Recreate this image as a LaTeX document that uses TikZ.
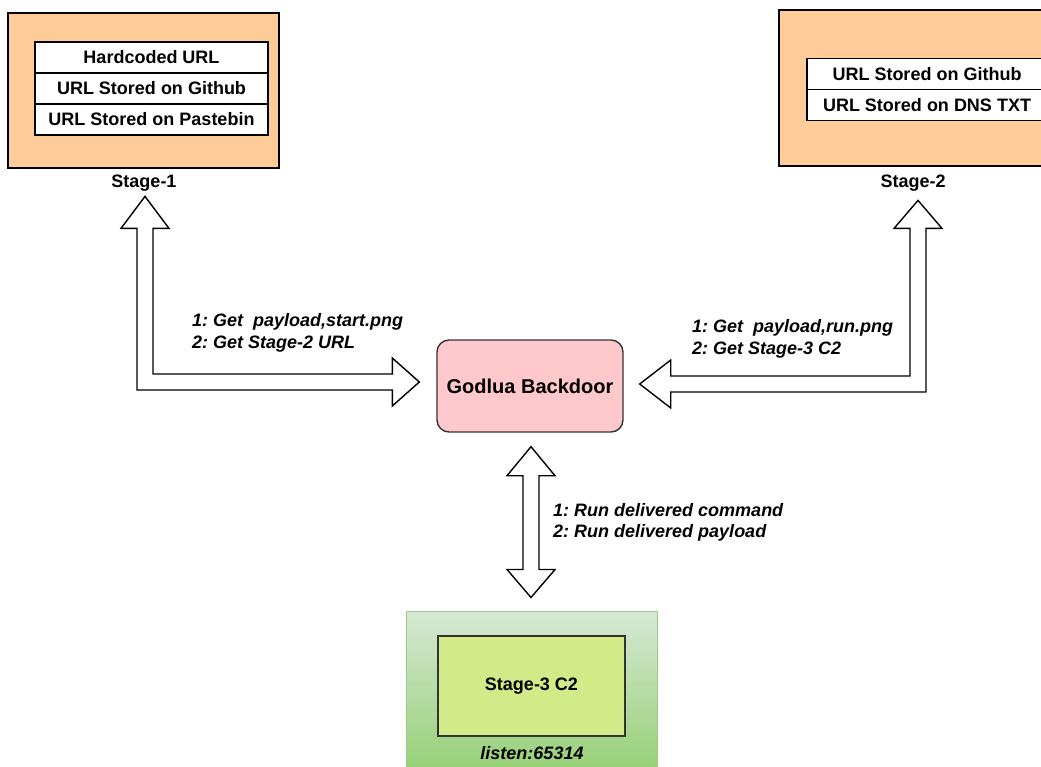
\documentclass[tikz,border=0pt]{standalone}
\usepackage{fontspec}
\setmainfont{Liberation Sans}
\frenchspacing
\usetikzlibrary{calc}
\definecolor{peach}{HTML}{FFCC99}
\definecolor{pinkfill}{HTML}{FFC9CC}
\definecolor{greentop}{HTML}{D5E8D4}
\definecolor{greenbot}{HTML}{97D077}
\definecolor{greenline}{HTML}{9CCB84}
\definecolor{limefill}{HTML}{D2EA88}
\definecolor{darkline}{HTML}{333333}
\begin{document}
\begin{tikzpicture}[x=1pt,y=-1pt,
  outerbox/.style={draw=black, fill=peach, line width=1.4pt, inner sep=0pt},
  itembox/.style={draw=black, fill=white, line width=1.4pt, inner sep=0pt,
    minimum height=31pt, font=\fontsize{18}{21}\selectfont\bfseries},
  itemrect/.style={draw=black, fill=white, line width=1.4pt},
  itemtext/.style={inner sep=0pt, font=\fontsize{18}{21}\selectfont\bfseries},
  stagelabel/.style={font=\fontsize{18}{21}\selectfont\bfseries, inner sep=0pt},
  flowlabel/.style={font=\fontsize{18}{21.5}\selectfont\bfseries\itshape, align=left, inner sep=0pt, anchor=west},
  blockarrow/.style={draw=black, fill=white, line width=1.4pt, line join=miter}
]
\useasboundingbox (0,0) rectangle (1041,766);
\clip (0,0) rectangle (1041,766);

% Stage-1
\node[outerbox, minimum width=271pt, minimum height=155pt] (s1) at (143.5,90.5) {};
\node[itembox, minimum width=233pt] (s1a) at (151.5,57.5) {Hardcoded URL};
\node[itembox, minimum width=233pt] (s1b) at (151.5,88.5) {URL Stored on Github};
\node[itembox, minimum width=233pt] (s1c) at (151.5,119.5) {URL Stored on Pastebin};
\node[stagelabel] (s1lab) at (144,183) {Stage-1};

% Stage-2 (runs off the right edge)
\path[outerbox] (779,10) rectangle (1080,166);
\path[itemrect] (807,58.5) rectangle (1070,89.5);
\path[itemrect] (807,89.5) rectangle (1070,120.5);
\node[itemtext] (s2a) at (927,74) {URL Stored on Github};
\node[itemtext] (s2b) at (927,105) {URL Stored on DNS TXT};
\node[stagelabel] (s2lab) at (913,183) {Stage-2};

% Godlua
\node[draw=darkline, fill=pinkfill, line width=1.4pt, rounded corners=12pt,
  minimum width=186pt, minimum height=92pt, inner sep=0pt,
  font=\fontsize{20}{24}\selectfont\bfseries] (god) at (530,386) {Godlua Backdoor};

% Stage-3
\node[draw=greenline, top color=greentop, bottom color=greenbot, line width=1pt,
  minimum width=251pt, minimum height=159pt, inner sep=0pt] (s3) at (531.5,690.5) {};
\node[draw=darkline, fill=limefill, line width=1.4pt, minimum width=187pt,
  minimum height=100pt, inner sep=0pt, font=\fontsize{18}{21}\selectfont\bfseries] (s3in) at (531.5,686) {Stage-3 C2};
\node[font=\fontsize{18}{21}\selectfont\bfseries\itshape, inner sep=0pt] (s3lab) at (532,753) {listen:65314};

% arrow tips
\coordinate (L1) at ($(s1lab.south)+(1,5)$);
\coordinate (L2) at ($(god.west)+(-17,-4)$);
\coordinate (R1) at ($(s2lab.south)+(5,9)$);
\coordinate (R2) at ($(god.east)+(16,-2)$);
\coordinate (V1) at ($(god.south)+(1,14)$);
\coordinate (V2) at ($(s3.north)+(-0.5,-13)$);

% left block arrow
\draw[blockarrow] (L1) -- ++(24,32) -- ++(-16,0)
  -- ($(L1|-L2)+(8,-8)$) -- ($(L2)+(-27,-8)$) -- ++(0,-16) -- (L2)
  -- ($(L2)+(-27,24)$) -- ++(0,-16) -- ($(L1|-L2)+(-8,8)$)
  -- ($(L1)+(-8,32)$) -- ++(-16,0) -- cycle;

% right block arrow
\draw[blockarrow] (R1) -- ++(24,28) -- ++(-16,0)
  -- ($(R1|-R2)+(8,8)$) -- ($(R2)+(31,8)$) -- ++(0,16) -- (R2)
  -- ($(R2)+(31,-24)$) -- ++(0,16) -- ($(R1|-R2)+(-8,-8)$)
  -- ($(R1)+(-8,28)$) -- ++(-16,0) -- cycle;

% vertical block arrow
\draw[blockarrow] (V1) -- ++(24,29) -- ++(-16,0)
  -- ($(V2)+(8,-28)$) -- ++(16,0) -- (V2) -- ($(V2)+(-24,-28)$) -- ++(16,0)
  -- ($(V1)+(-8,29)$) -- ++(-16,0) -- cycle;

% labels
\node[flowlabel] (lab1) at (192,333) {1: Get\ \ payload,start.png\\2: Get Stage-2 URL};
\node[flowlabel] (lab2) at (692,339) {1: Get\ \ payload,run.png\\2: Get Stage-3 C2};
\node[flowlabel] (lab3) at (553,522.5) {1: Run delivered command\\2: Run delivered payload};
\end{tikzpicture}
\end{document}
